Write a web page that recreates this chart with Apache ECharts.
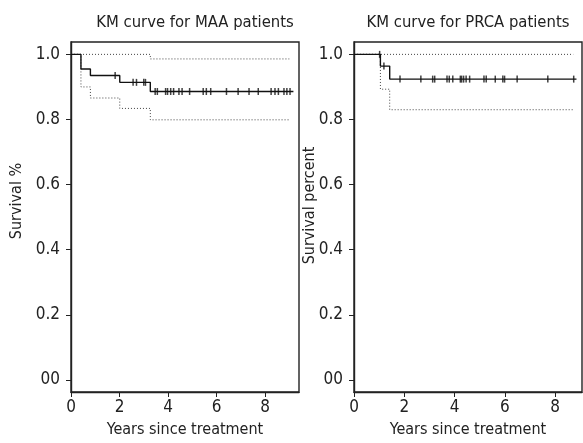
<!DOCTYPE html>
<html>
<head>
<meta charset="utf-8">
<script src="https://cdn.jsdelivr.net/npm/echarts@6/dist/echarts.min.js"></script>
<style>
  html, body { margin: 0; padding: 0; background: #fff; }
  #chart { width: 583px; height: 443px; }
</style>
</head>
<body>
<div id="chart"></div>
<script>
// MAA panel: KM step curve + 95% CI, censor ticks
var maaTimes = [0, 0.41, 0.80, 2.01, 3.27, 9.17]
var maaSurv = [1.0, 0.955, 0.935, 0.914, 0.886, 0.886]
var maaCiTimes = [0, 0.41, 0.80, 2.01, 3.27, 9.0]
var maaUpper = [1.0, 1.0, 1.0, 1.0, 0.986, 0.986]
var maaLower = [1.0, 0.900, 0.866, 0.834, 0.799, 0.799]
var maaCensor = [1.82, 2.56, 2.70, 3.00, 3.07, 3.47, 3.56, 3.90, 3.98, 4.11, 4.23, 4.45, 4.58, 4.89,
  5.45, 5.58, 5.76, 6.41, 6.89, 7.34, 7.72, 8.25, 8.41, 8.55, 8.78, 8.90, 9.03]

// PRCA panel
var prcaTimes = [0, 1.05, 1.42, 8.85]
var prcaSurv = [1.0, 0.964, 0.924, 0.924]
var prcaCiTimes = [0, 1.05, 1.42, 8.72]
var prcaUpper = [1.0, 1.0, 1.0, 1.0]
var prcaLower = [1.0, 0.893, 0.830, 0.830]
var prcaCensor = [1.02, 1.19, 1.83, 2.66, 3.13, 3.21, 3.70, 3.79, 3.93, 4.23, 4.28, 4.36, 4.46, 4.60,
  5.17, 5.26, 5.62, 5.92, 5.99, 6.49, 7.71, 8.74]

var xTicks = [0, 2, 4, 6, 8]
var yTicks = [0, 0.2, 0.4, 0.6, 0.8, 1.0]
var yTickLabels = ['00', '0.2', '0.4', '0.6', '0.8', '1.0']

var FONT = '"DejaVu Sans Condensed", "Liberation Sans Narrow", sans-serif'

function pairs(xs, ys) {
  return xs.map(function (x, i) { return [x, ys[i]] })
}
// survival value at time t (right-continuous step)
function survAt(times, surv, t) {
  var s = surv[0]
  for (var i = 0; i < times.length; i++) {
    if (times[i] <= t) s = surv[i]
  }
  return s
}
function censorPts(cens, times, surv) {
  return cens.map(function (t) { return [t, survAt(times, surv, t)] })
}

function xAxisOpt(idx, max) {
  return {
    type: 'value', gridIndex: idx, min: 0, max: max,
    name: 'Years since treatment', nameLocation: 'middle', nameGap: 30,
    nameTextStyle: { fontFamily: FONT, fontSize: 16, color: '#222' },
    splitLine: { show: false },
    axisLine: { onZero: false, lineStyle: { color: '#222', width: 1.4 } },
    axisTick: { customValues: xTicks, length: 5, lineStyle: { color: '#222' } },
    axisLabel: { customValues: xTicks, margin: 7, fontFamily: FONT, fontSize: 17, color: '#222' }
  }
}
function yAxisOpt(idx, name, gap, shift) {
  return {
    type: 'value', gridIndex: idx, min: -0.037, max: 1.038,
    name: name, nameLocation: 'middle', nameGap: gap, nameMoveOverlap: false,
    nameTextStyle: { fontFamily: FONT, fontSize: 16, color: '#222', padding: [0, 0, 0, shift] },
    splitLine: { show: false },
    axisLine: { onZero: false, lineStyle: { color: '#222', width: 1.4 } },
    axisTick: { customValues: yTicks, length: 5, lineStyle: { color: '#222' } },
    axisLabel: {
      customValues: yTicks, margin: 11, fontFamily: FONT, fontSize: 17, color: '#222',
      formatter: function (v) {
        var i = yTicks.findIndex(function (t) { return Math.abs(t - v) < 1e-6 })
        return i >= 0 ? yTickLabels[i] : ''
      }
    }
  }
}
function stepLine(xi, data, dotted) {
  return {
    type: 'line', xAxisIndex: xi, yAxisIndex: xi, step: 'end', data: data,
    symbol: 'none', silent: true,
    lineStyle: dotted
      ? { color: '#444', width: 1, type: [1, 2] }
      : { color: '#111', width: 1.4 }
  }
}
function censorSeries(xi, data) {
  return {
    type: 'scatter', xAxisIndex: xi, yAxisIndex: xi, data: data,
    symbol: 'rect', symbolSize: [1.5, 7], silent: true,
    itemStyle: { color: '#111' }
  }
}

var chart = echarts.init(document.getElementById('chart'))
chart.setOption({
  animation: false,
  backgroundColor: '#fff',
  title: [
    { text: 'KM curve for MAA patients', left: 190, top: 9, textAlign: 'center',
      textStyle: { fontFamily: FONT, fontSize: 16.5, fontWeight: 'normal', color: '#222' } },
    { text: 'KM curve for PRCA patients', left: 463, top: 9, textAlign: 'center',
      textStyle: { fontFamily: FONT, fontSize: 16.5, fontWeight: 'normal', color: '#222' } }
  ],
  grid: [
    { left: 71, right: 284, top: 42, bottom: 50, show: true, borderColor: '#222', borderWidth: 1.4 },
    { left: 354, right: 1, top: 42, bottom: 50, show: true, borderColor: '#222', borderWidth: 1.4 }
  ],
  xAxis: [xAxisOpt(0, 9.4), xAxisOpt(1, 9.07)],
  yAxis: [yAxisOpt(0, 'Survival %', 46, 32), yAxisOpt(1, 'Survival percent', 36, 23)],
  series: [
    stepLine(0, pairs(maaCiTimes, maaUpper), true),
    stepLine(0, pairs(maaCiTimes, maaLower), true),
    stepLine(0, pairs(maaTimes, maaSurv), false),
    censorSeries(0, censorPts(maaCensor, maaTimes, maaSurv)),
    stepLine(1, pairs(prcaCiTimes, prcaUpper), true),
    stepLine(1, pairs(prcaCiTimes, prcaLower), true),
    stepLine(1, pairs(prcaTimes, prcaSurv), false),
    censorSeries(1, censorPts(prcaCensor, prcaTimes, prcaSurv))
  ]
})
</script>
</body>
</html>
